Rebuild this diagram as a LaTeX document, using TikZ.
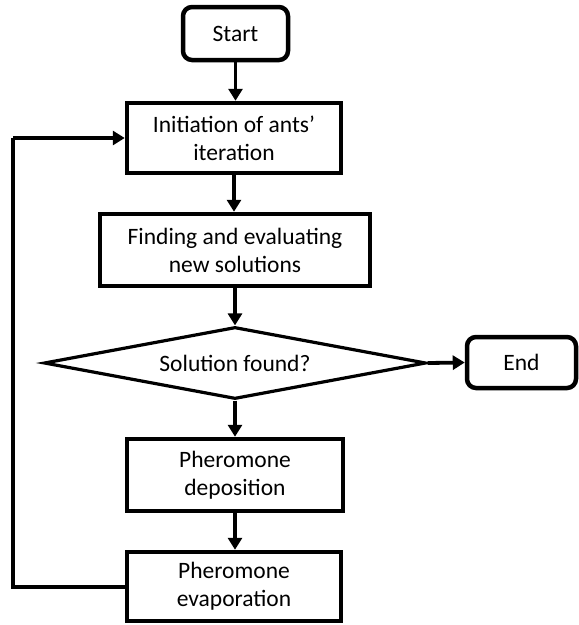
\documentclass[tikz,border=0pt]{standalone}
\usepackage{fontspec}
\setmainfont{Carlito}
\usetikzlibrary{shapes.geometric,arrows.meta}
\begin{document}
\begin{tikzpicture}[x=1pt,y=-1pt,
  every node/.style={font=\fontsize{23.5}{28}\selectfont, inner sep=0pt, align=center},
  term/.style={draw, line width=4.5pt, rounded corners=9pt, rectangle},
  proc/.style={draw, line width=4.5pt, rectangle},
  decision/.style={draw, line width=3.2pt, diamond, aspect=5.3},
  arr/.style={line width=3.8pt, -{Triangle[length=12pt,width=14pt]}},
  link/.style={line width=3.8pt}
]
\useasboundingbox (0,0) rectangle (579,625);
\node[term, minimum width=105pt, minimum height=53pt] (start) at (235.5,33.5) {Start};
\node[proc, minimum width=214pt, minimum height=70pt] (init) at (234,138) {Initiation of ants’\\iteration};
\node[proc, minimum width=270pt, minimum height=72pt] (find) at (235,250) {Finding and evaluating\\new solutions};
\node[decision, minimum width=382pt, minimum height=72pt] (dec) at (235,363) {Solution found?};
\node[term, minimum width=109pt, minimum height=51pt] (end) at (521.5,362.5) {End};
\node[proc, minimum width=216pt, minimum height=72pt] (dep) at (235,475) {Pheromone\\deposition};
\node[proc, minimum width=214pt, minimum height=69pt] (evap) at (234,586.5) {Pheromone\\evaporation};
\coordinate (lb) at (13,587);
\coordinate (lt) at (13,138);
\draw[arr] (start.south) -- (start.south |- init.north);
\draw[arr] (init.south) -- (init.south |- find.north);
\draw[arr] (find.south) -- (dec.north);
\draw[arr] (dec.east) -- (end.west);
\draw[arr] (dec.south) -- (dec.south |- dep.north);
\draw[arr] (dep.south) -- (dep.south |- evap.north);
\draw[link] (evap.west |- lb) -- (lb) -- (lt);
\draw[arr] (lt) -- (lt -| init.west);
\end{tikzpicture}
\end{document}
